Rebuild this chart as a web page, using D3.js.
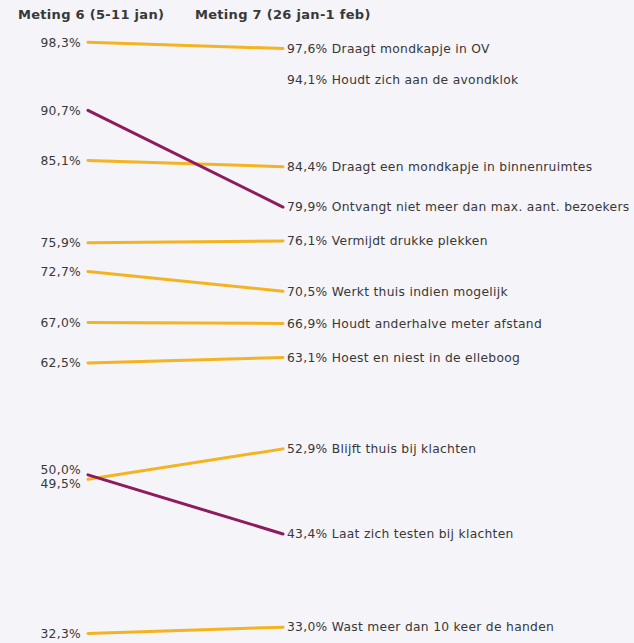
<!DOCTYPE html>
<html>
<head>
<meta charset="utf-8">
<script src="https://cdn.jsdelivr.net/npm/d3@7"></script>
<style>
  html, body { margin: 0; padding: 0; background: #f5f4f8; }
  svg { display: block; font-family: "DejaVu Sans", Verdana, sans-serif; }
  .val, .lbl { font-size: 12.3px; fill: #383838; letter-spacing: 0.3px; }
  .head { font-size: 13px; fill: #383838; font-weight: bold; letter-spacing: 0.3px; }
</style>
</head>
<body>
<div id="chart"></div>
<script>
// maatregelen, meting 6 en meting 7 (percentages)
const labels = [
  "Draagt mondkapje in OV",
  "Houdt zich aan de avondklok",
  "Draagt een mondkapje in binnenruimtes",
  "Ontvangt niet meer dan max. aant. bezoekers",
  "Vermijdt drukke plekken",
  "Werkt thuis indien mogelijk",
  "Houdt anderhalve meter afstand",
  "Hoest en niest in de elleboog",
  "Blijft thuis bij klachten",
  "Laat zich testen bij klachten",
  "Wast meer dan 10 keer de handen"
];
const meting6 = [98.3, null, 85.1, 90.7, 75.9, 72.7, 67.0, 62.5, 49.5, 50.0, 32.3];
const meting7 = [97.6, 94.1, 84.4, 79.9, 76.1, 70.5, 66.9, 63.1, 52.9, 43.4, 33.0];
const daling  = [false, false, false, true, false, false, false, false, false, true, false];
const headers = ["Meting 6 (5-11 jan)", "Meting 7 (26 jan-1 feb)"];

const width = 634, height = 643;
const svg = d3.select("#chart").append("svg")
    .attr("width", width)
    .attr("height", height);

const x = d3.scalePoint().domain([0, 1]).range([88, 283]);
const y = d3.scaleLinear().domain([30, 100]).range([654, 27]);
const fmt = v => d3.format(".1f")(v).replace(".", ",") + "%";

const data = labels.map((l, i) => ({
  label: l, a: meting6[i], b: meting7[i], down: daling[i]
}));

// headers
svg.selectAll("text.head").data(headers).join("text")
    .attr("class", "head")
    .attr("x", (d, i) => i === 0 ? 18 : 195)
    .attr("y", 19)
    .text(d => d);

// lijnen
const withLine = data.filter(d => d.a != null);
svg.append("g").selectAll("line").data(withLine).join("line")
    .attr("x1", x(0)).attr("x2", x(1))
    .attr("y1", d => y(d.a)).attr("y2", d => y(d.b))
    .attr("stroke", d => d.down ? "#8e1c5c" : "#f4b320")
    .attr("stroke-width", 3)
    .attr("stroke-linecap", "round");

// linker labels met eenvoudige botsingscontrole
const left = withLine.map(d => ({ v: d.a, yy: y(d.a) })).sort((p, q) => p.yy - q.yy);
for (let i = 1; i < left.length; i++) {
  const gap = 14;
  if (left[i].yy - left[i - 1].yy < gap) {
    const mid = (left[i].yy + left[i - 1].yy) / 2;
    left[i - 1].yy = mid - gap / 2;
    left[i].yy = mid + gap / 2;
  }
}
svg.append("g").selectAll("text").data(left).join("text")
    .attr("class", "val")
    .attr("x", x(0) - 7)
    .attr("y", d => d.yy)
    .attr("dy", "0.35em")
    .attr("text-anchor", "end")
    .text(d => fmt(d.v));

// rechter labels
svg.append("g").selectAll("text").data(data).join("text")
    .attr("class", "lbl")
    .attr("x", x(1) + 4)
    .attr("y", d => y(d.b))
    .attr("dy", "0.35em")
    .text(d => fmt(d.b) + " " + d.label);
</script>
</body>
</html>
